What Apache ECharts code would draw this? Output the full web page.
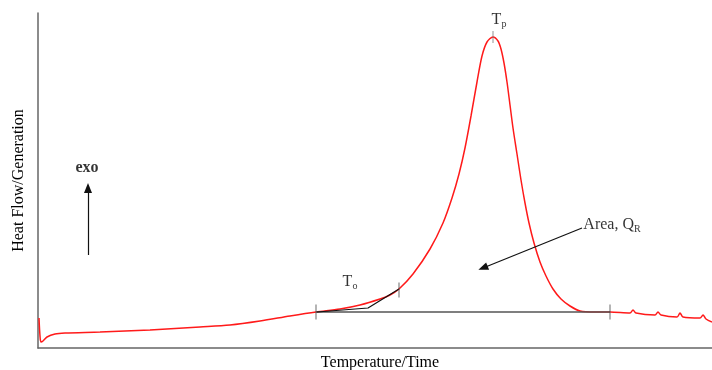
<!DOCTYPE html>
<html><head><meta charset="utf-8">
<script src="https://cdn.jsdelivr.net/npm/echarts@6/dist/echarts.min.js"></script>
<style>html,body{margin:0;padding:0;background:#fff}#c{width:712px;height:370px}</style>
</head><body><div id="c"></div>
<script>
// DSC curve (arbitrary units): [temperature/time, heat flow]
const curve = [[1,30],[2,12],[3,6],[5,7],[9,11],[17,14],[27,15],[62,16],[112,18],[162,21],[192,23],[222,27],[252,32],[278,36],[302,39],[322,43],[342,49],
  [352,53],[361,59],[375,74],[392,99],[405,125],[414,150],[421,174],[427,200],[433,232],[439,266],[444,292],[449,306],[455,311],
  [460,307],[463,299],[466,285],[469,266],[472,243],[475,220],[479,194],[483,168],[487,145],[491,125],[496,105],[502,86],[508,72],[515,59],[523,49],[532,42],[542,37],
  [557,36],[572,36],[592,35],[595,38],[598,35],[617,33],[620,36],[623,33],[639,31],[642,35],[645,31],[662,30],[665,33],[668,29],[674,26]];
const baseline = [[278,36],[572,36]];
const tangent = [[279,36],[330,40],[361,59]];
const tickMarks = [[278,36],[361,58],[572,36]];
const peakTick = [[455,311]];
const exoArrow = [[50,93],[50,160]];
const areaArrow = [[544,120],[445,80]];
const labels = [
  {pos:[49,180], text:'{b|exo}'},
  {pos:[312,66], text:'{t|T}{s|o}'},
  {pos:[461,328], text:'{t|T}{s|p}'},
  {pos:[574,123], text:'{t|Area, Q}{s|R}'}
];
const xRange = [0,674], yRange = [0,335];

const chart = echarts.init(document.getElementById('c'));
const serif = 'Liberation Serif';
chart.setOption({
  animation:false,
  grid:{left:38,right:0,top:13,bottom:22,containLabel:false,outerBoundsMode:'none'},
  xAxis:{type:'value',min:xRange[0],max:xRange[1],
    name:'Temperature/Time',nameLocation:'middle',nameGap:7,
    nameTextStyle:{fontFamily:serif,fontSize:16,color:'#000',padding:[0,0,0,10]},
    axisLine:{lineStyle:{color:'#666',width:1.5}},axisTick:{show:false},axisLabel:{show:false},splitLine:{show:false}},
  yAxis:{type:'value',min:yRange[0],max:yRange[1],
    name:'Heat Flow/Generation',nameLocation:'middle',nameGap:11,nameRotate:90,
    nameTextStyle:{fontFamily:serif,fontSize:16,color:'#000'},
    axisLine:{show:true,lineStyle:{color:'#666',width:1.5}},axisTick:{show:false},axisLabel:{show:false},splitLine:{show:false}},
  series:[
    {type:'line',data:curve,smooth:0.3,showSymbol:false,lineStyle:{color:'#ff1a1a',width:1.5},z:2},
    {type:'line',data:baseline,showSymbol:false,lineStyle:{color:'#555',width:1.5},z:3},
    {type:'line',data:tangent,showSymbol:false,lineStyle:{color:'#111',width:1.2},z:4},
    {type:'scatter',data:tickMarks,symbol:'rect',symbolSize:[1,15],itemStyle:{color:'#444'},z:5},
    {type:'scatter',data:peakTick,symbol:'rect',symbolSize:[1,12],itemStyle:{color:'#777'},z:5},
    {type:'line',data:[],markLine:{silent:true,symbol:['none','triangle'],symbolSize:[8,10],
      lineStyle:{color:'#111',width:1.2,type:'solid'},label:{show:false},
      data:[[{coord:exoArrow[0]},{coord:exoArrow[1]}],[{coord:areaArrow[0]},{coord:areaArrow[1]}]]}},
    {type:'scatter',symbolSize:0,z:6,
      data:labels.map(l=>({value:l.pos,label:{formatter:l.text}})),
      label:{show:true,position:'inside',
        rich:{
          b:{fontFamily:serif,fontSize:16,fontWeight:'bold',color:'#000'},
          t:{fontFamily:serif,fontSize:16,color:'#000'},
          s:{fontFamily:serif,fontSize:10,color:'#000',padding:[8,0,0,0]}
        }}}
  ]
});
</script></body></html>
